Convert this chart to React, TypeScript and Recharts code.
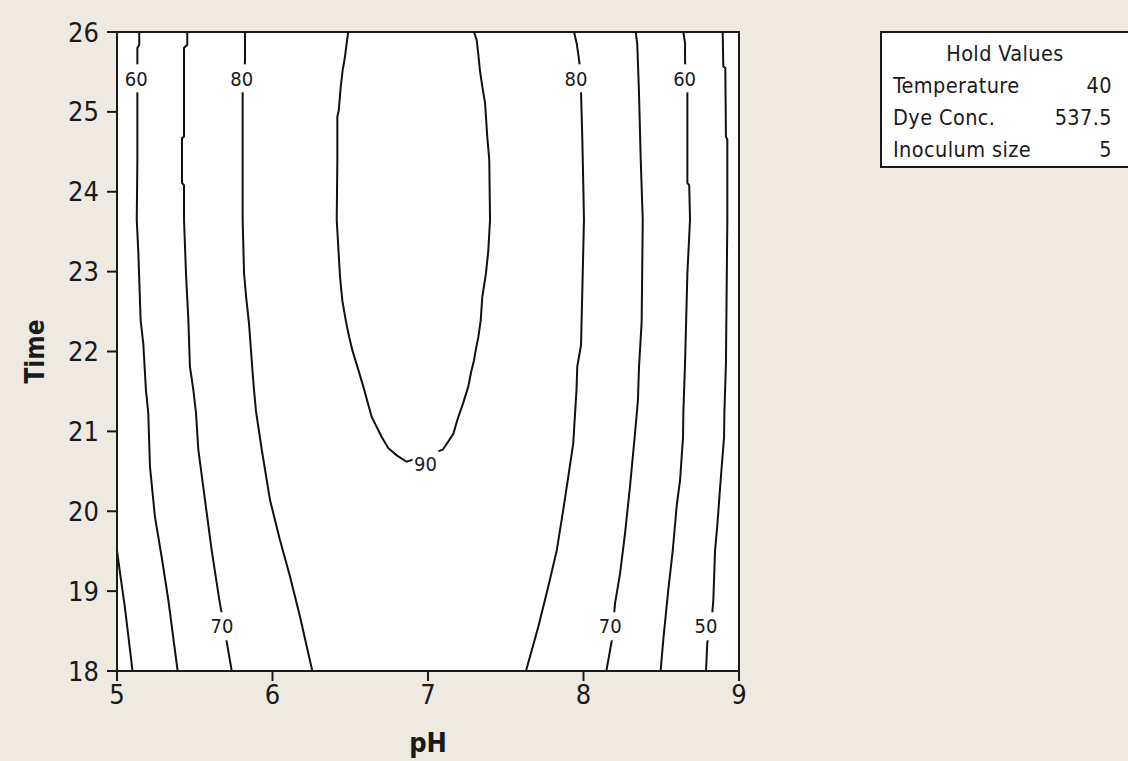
import React from "react";
import {
  ComposedChart,
  Line,
  Scatter,
  XAxis,
  YAxis,
  CartesianGrid,
  ReferenceArea,
} from "recharts";

const FONT = "'DejaVu Sans Condensed', 'DejaVu Sans', sans-serif";
const INK = "#1a1a1a";

const phTicks = [5, 6, 7, 8, 9];
const timeTicks = [18, 19, 20, 21, 22, 23, 24, 25, 26];

// contour lines as [pH, Time]
const contour50Left: [number, number][] = [
  [5.0, 19.51], [5.02, 19.22], [5.05, 18.81], [5.1, 18.0],
];
const contour60Left: [number, number][] = [
  [5.143, 26.0], [5.143, 25.84], [5.131, 25.8], [5.131, 25.27], [5.131, 24.4],
  [5.127, 23.65], [5.137, 23.25], [5.152, 22.39], [5.169, 22.1], [5.186, 21.52],
  [5.201, 21.23], [5.212, 20.56], [5.244, 19.93], [5.287, 19.43], [5.33, 18.89],
  [5.39, 18.0],
];
const contour70Left: [number, number][] = [
  [5.452, 26.0], [5.452, 25.84], [5.431, 25.8], [5.431, 24.69], [5.418, 24.67],
  [5.418, 24.11], [5.431, 24.08], [5.431, 23.65], [5.444, 22.96], [5.459, 22.39],
  [5.469, 21.81], [5.491, 21.52], [5.508, 21.23], [5.523, 20.77], [5.566, 20.14],
  [5.609, 19.51], [5.658, 18.89], [5.705, 18.37], [5.738, 18.0],
];
const contour80Left: [number, number][] = [
  [5.823, 26.0], [5.823, 25.63], [5.808, 25.27], [5.808, 23.65], [5.817, 22.98],
  [5.83, 22.69], [5.849, 22.35], [5.87, 21.79], [5.881, 21.52], [5.894, 21.25],
  [5.931, 20.77], [5.984, 20.14], [6.048, 19.64], [6.113, 19.18], [6.177, 18.68],
  [6.256, 18.0],
];
const contour90: [number, number][] = [
  [6.487, 26.0], [6.477, 25.86], [6.466, 25.69], [6.451, 25.52], [6.439, 25.32],
  [6.426, 25.02], [6.417, 24.94], [6.417, 24.4], [6.413, 23.65], [6.423, 23.31],
  [6.434, 22.94], [6.449, 22.64], [6.471, 22.39], [6.492, 22.19], [6.513, 22.02],
  [6.552, 21.77], [6.584, 21.56], [6.638, 21.18], [6.702, 20.93], [6.745, 20.79],
  [6.799, 20.7], [6.863, 20.62],
  [7.095, 20.77], [7.163, 20.97], [7.188, 21.14], [7.227, 21.36], [7.259, 21.56],
  [7.277, 21.74], [7.296, 21.89], [7.307, 22.02], [7.323, 22.17], [7.339, 22.39],
  [7.349, 22.68], [7.373, 22.98], [7.388, 23.27], [7.399, 23.65], [7.394, 24.4],
  [7.381, 24.69], [7.367, 25.11], [7.349, 25.32], [7.334, 25.52], [7.323, 25.73],
  [7.313, 25.9], [7.296, 26.0],
];
const contour80Right: [number, number][] = [
  [7.939, 26.0], [7.956, 25.86], [7.973, 25.63], [7.984, 25.25], [7.992, 24.69],
  [7.999, 24.06], [8.003, 23.65], [7.995, 22.98], [7.984, 22.08], [7.96, 21.81],
  [7.955, 21.52], [7.934, 20.85], [7.902, 20.43], [7.87, 20.02], [7.828, 19.51],
  [7.774, 19.06], [7.709, 18.55], [7.63, 18.0],
];
const contour70Right: [number, number][] = [
  [8.336, 26.0], [8.346, 25.84], [8.357, 25.23], [8.368, 24.4], [8.381, 23.65],
  [8.374, 22.37], [8.357, 21.81], [8.35, 21.39], [8.331, 20.97], [8.299, 20.31],
  [8.267, 19.72], [8.235, 19.22], [8.203, 18.85], [8.181, 18.37], [8.147, 18.0],
];
const contour60Right: [number, number][] = [
  [8.642, 26.0], [8.653, 25.86], [8.653, 25.63], [8.668, 25.27], [8.668, 24.11],
  [8.68, 24.08], [8.685, 23.65], [8.668, 22.98], [8.653, 21.85], [8.642, 21.23],
  [8.64, 20.93], [8.621, 20.39], [8.599, 20.06], [8.574, 19.51], [8.545, 19.01],
  [8.513, 18.39], [8.496, 18.0],
];
const contour50Right: [number, number][] = [
  [8.895, 26.0], [8.899, 25.57], [8.912, 25.55], [8.916, 24.69], [8.925, 24.65],
  [8.925, 23.65], [8.916, 21.85], [8.906, 21.23], [8.904, 20.93], [8.882, 20.39],
  [8.86, 19.81], [8.846, 19.51], [8.835, 18.89], [8.828, 18.72], [8.796, 18.35],
  [8.788, 18.0],
];

const contours = [
  contour50Left, contour60Left, contour70Left, contour80Left, contour90,
  contour80Right, contour70Right, contour60Right, contour50Right,
];

// level labels sitting on the lines
const levelLabels = [
  { ph: 5.124, t: 25.42, text: "60" },
  { ph: 5.802, t: 25.42, text: "80" },
  { ph: 7.952, t: 25.42, text: "80" },
  { ph: 8.65, t: 25.42, text: "60" },
  { ph: 6.984, t: 20.59, text: "90" },
  { ph: 5.675, t: 18.56, text: "70" },
  { ph: 8.172, t: 18.56, text: "70" },
  { ph: 8.788, t: 18.56, text: "50" },
];

const holdNames = ["Temperature", "Dye Conc.", "Inoculum size"];
const holdValues = ["40", "537.5", "5"];

const toPoints = (c: [number, number][]) => c.map(([ph, t]) => ({ ph, t }));

function LevelLabel(props: any) {
  const { cx, cy, payload } = props;
  if (cx == null || cy == null) return null;
  return (
    <g>
      <rect x={cx - 13} y={cy - 14} width={26} height={28} fill="#fff" />
      <text
        x={cx}
        y={cy}
        dy="0.36em"
        textAnchor="middle"
        fontSize={20}
        fontFamily={FONT}
        fill={INK}
      >
        {payload.text}
      </text>
    </g>
  );
}

export default function App() {
  return (
    <div
      style={{
        position: "absolute",
        left: 0,
        top: 0,
        width: 1128,
        height: 761,
        background: "#EEEAE1",
        overflow: "hidden",
        fontFamily: FONT,
      }}
    >
      <ComposedChart
        width={1128}
        height={761}
        margin={{ top: 32, right: 389, bottom: 0, left: 0 }}
      >
        <CartesianGrid fill="#fff" horizontal={false} vertical={false} />
        <XAxis
          type="number"
          dataKey="ph"
          domain={[5, 9]}
          ticks={phTicks}
          allowDataOverflow
          height={90}
          tickSize={10}
          tickMargin={4}
          axisLine={{ stroke: INK, strokeWidth: 2 }}
          tickLine={{ stroke: INK, strokeWidth: 2 }}
          tick={{ fill: INK, fontSize: 27, fontFamily: FONT }}
          label={{
            value: "pH",
            position: "insideBottom",
            offset: 9,
            fill: INK,
            fontSize: 27,
            fontWeight: "bold",
            fontFamily: FONT,
          }}
        />
        <YAxis
          type="number"
          dataKey="t"
          domain={[18, 26]}
          ticks={timeTicks}
          allowDataOverflow
          width={117}
          tickSize={10}
          tickMargin={8}
          axisLine={{ stroke: INK, strokeWidth: 2 }}
          tickLine={{ stroke: INK, strokeWidth: 2 }}
          tick={{ fill: INK, fontSize: 27, fontFamily: FONT }}
          label={{
            content: ({ viewBox }: any) => {
              const cy = viewBox.y + viewBox.height / 2;
              return (
                <text
                  x={35}
                  y={cy}
                  transform={`rotate(-90 35 ${cy})`}
                  dy="0.36em"
                  textAnchor="middle"
                  fontSize={26}
                  fontWeight="bold"
                  fontFamily={FONT}
                  fill={INK}
                >
                  Time
                </text>
              );
            },
          }}
        />
        {contours.map((c, i) => (
          <Line
            key={i}
            data={toPoints(c)}
            dataKey="t"
            type="linear"
            stroke="#111"
            strokeWidth={2}
            dot={false}
            activeDot={false}
            isAnimationActive={false}
          />
        ))}
        <Scatter
          data={levelLabels}
          dataKey="t"
          shape={<LevelLabel />}
          isAnimationActive={false}
        />
        <ReferenceArea
          x1={5}
          x2={9}
          y1={18}
          y2={26}
          fill="none"
          stroke={INK}
          strokeWidth={2}
        />
      </ComposedChart>

      <div
        style={{
          position: "absolute",
          left: 880,
          top: 31,
          width: 262,
          height: 133,
          background: "#fff",
          border: "2px solid #1a1a1a",
          color: INK,
          fontSize: 21.5,
          letterSpacing: 0.4,
        }}
      >
        <div
          style={{
            position: "absolute",
            left: 0,
            width: 246,
            top: 8,
            textAlign: "center",
            lineHeight: "26px",
          }}
        >
          Hold Values
        </div>
        {holdNames.map((name, i) => (
          <React.Fragment key={name}>
            <div
              style={{
                position: "absolute",
                left: 11,
                top: 40 + i * 32,
                lineHeight: "26px",
              }}
            >
              {name}
            </div>
            <div
              style={{
                position: "absolute",
                left: 130,
                width: 100,
                top: 40 + i * 32,
                textAlign: "right",
                lineHeight: "26px",
              }}
            >
              {holdValues[i]}
            </div>
          </React.Fragment>
        ))}
      </div>
    </div>
  );
}
